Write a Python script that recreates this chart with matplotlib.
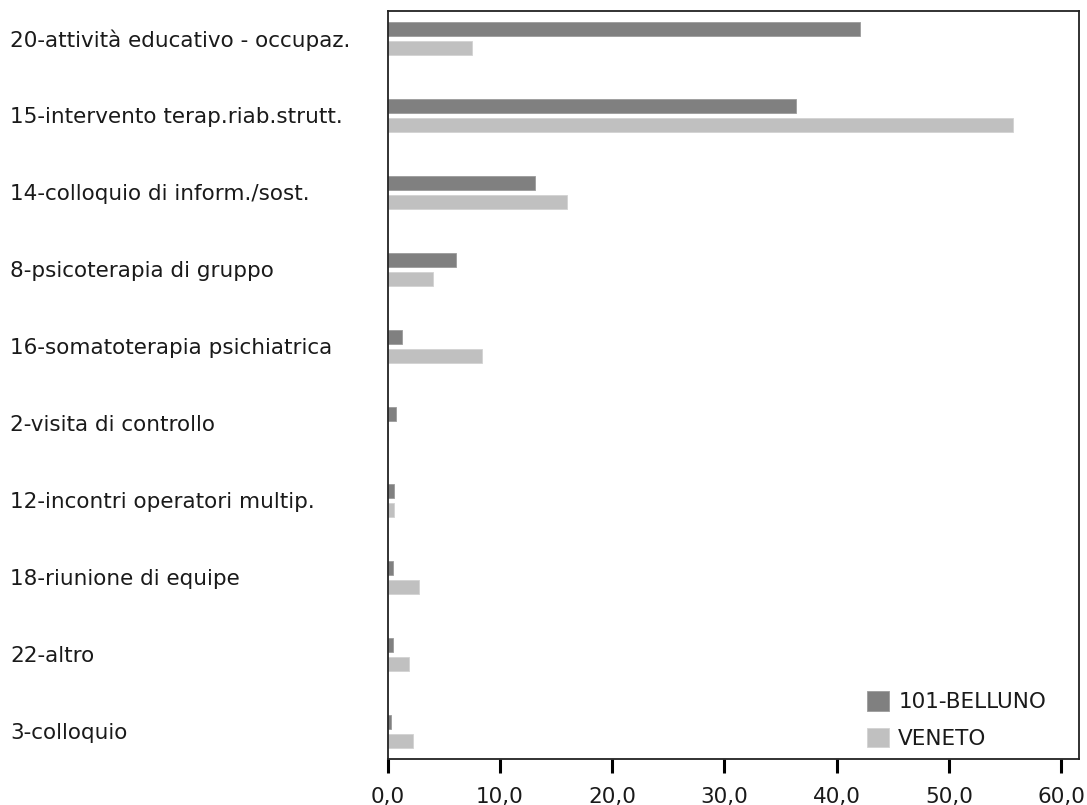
import matplotlib
matplotlib.use("Agg")
import matplotlib.pyplot as plt
import numpy as np

categories = [
    "20-attività educativo - occupaz.",
    "15-intervento terap.riab.strutt.",
    "14-colloquio di inform./sost.",
    "8-psicoterapia di gruppo",
    "16-somatoterapia psichiatrica",
    "2-visita di controllo",
    "12-incontri operatori multip.",
    "18-riunione di equipe",
    "22-altro",
    "3-colloquio",
]
belluno = [42.1, 36.4, 13.1, 6.1, 1.25, 0.75, 0.62, 0.45, 0.45, 0.3]
veneto = [7.5, 55.7, 16.0, 4.05, 8.4, 0.0, 0.62, 2.8, 1.9, 2.3]
series_names = ["101-BELLUNO", "VENETO"]
xticks = [0, 10, 20, 30, 40, 50, 60]
xticklabels = ["0,0", "10,0", "20,0", "30,0", "40,0", "50,0", "60,0"]

plt.rcParams['font.family'] = ['DejaVu Sans']
FS = 15.5

W, H = 1087, 805
fig = plt.figure(figsize=(W / 100, H / 100), dpi=100)
ax = fig.add_axes([387.5 / W, (805 - 759) / H, 691.5 / W, 748 / H])

y = np.arange(len(categories))
off = 0.121
bh = 0.18
b1 = ax.barh(y - off, belluno, height=bh, color='#808080', edgecolor='#9c9c9c', linewidth=0.6, label=series_names[0])
b2 = ax.barh(y + off, veneto, height=bh, color='#c0c0c0', edgecolor='#d2d2d2', linewidth=0.6, label=series_names[1])

ax.set_xlim(0, 61.6)
ax.set_ylim(9.36, -0.355)

ax.set_yticks(y)
ax.set_yticklabels(categories, fontsize=FS, color='#1a1a1a', ha='left')
ax.tick_params(axis='y', length=0, pad=(387.5 - 10) * 72 / 100)

ax.set_xticks(xticks)
ax.set_xticklabels(xticklabels, fontsize=FS, color='#1a1a1a')
ax.tick_params(axis='x', length=10, width=2.2, direction='out', color='black', pad=10)

for s in ax.spines.values():
    s.set_linewidth(1.3)
    s.set_color('#222222')

leg = ax.legend(handles=[b1, b2], labels=series_names, loc='lower left',
                bbox_to_anchor=((867 - 387.5) / 691.5, 0.014), frameon=False,
                fontsize=FS, handlelength=1.0, handleheight=1.0,
                handletextpad=0.45, labelspacing=0.7, borderpad=0, borderaxespad=0)
for t in leg.get_texts():
    t.set_color('#1a1a1a')

fig.savefig("out.png", dpi=100)
